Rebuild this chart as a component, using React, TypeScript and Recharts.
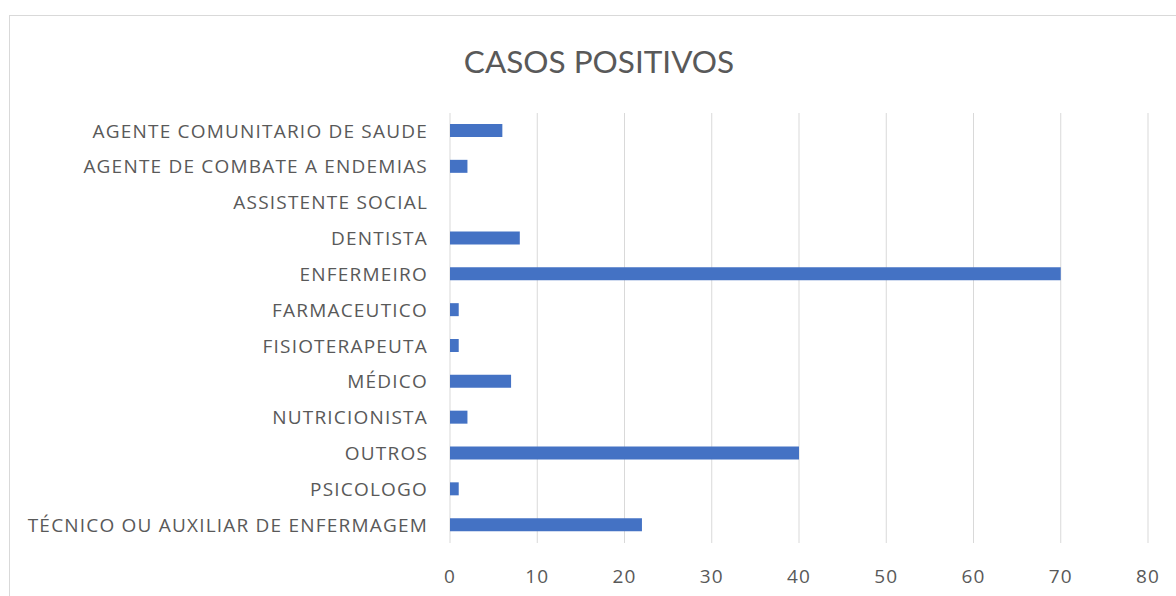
import { BarChart, Bar, XAxis, YAxis, CartesianGrid } from "recharts";

const categories = [
  "AGENTE COMUNITARIO DE SAUDE",
  "AGENTE DE COMBATE A ENDEMIAS",
  "ASSISTENTE SOCIAL",
  "DENTISTA",
  "ENFERMEIRO",
  "FARMACEUTICO",
  "FISIOTERAPEUTA",
  "MÉDICO",
  "NUTRICIONISTA",
  "OUTROS",
  "PSICOLOGO",
  "TÉCNICO OU AUXILIAR DE ENFERMAGEM",
];

const casos = [6, 2, 0, 8, 70, 1, 1, 7, 2, 40, 1, 22];

const xTicks = [0, 10, 20, 30, 40, 50, 60, 70, 80];

const data = categories.map((name, i) => ({ name, casos: casos[i] }));

const font = "'Open Sans', Lato, sans-serif";
const textColor = "#595959";
const tickStyle = { fill: textColor, fontSize: 19, fontFamily: font, letterSpacing: 1.2 };

export default function App() {
  return (
    <div
      style={{
        position: "absolute",
        left: 0,
        top: 0,
        width: 1176,
        height: 596,
        overflow: "hidden",
        background: "#fff",
        fontFamily: font,
      }}
    >
      <div
        style={{
          position: "absolute",
          left: 9,
          top: 15,
          width: 1300,
          height: 800,
          border: "1px solid #d9d9d9",
        }}
      />
      <div
        style={{
          position: "absolute",
          left: 0,
          top: 39,
          width: 1198,
          textAlign: "center",
          fontSize: 31.5,
          fontFamily: "Lato, sans-serif",
          color: textColor,
          lineHeight: "44px",
        }}
      >
        CASOS POSITIVOS
      </div>
      <div style={{ position: "absolute", left: 0, top: 0 }}>
        <BarChart
          width={1176}
          height={596}
          data={data}
          layout="vertical"
          margin={{ top: 113, right: 28, bottom: 0, left: 0 }}
        >
          <CartesianGrid horizontal={false} stroke="#d9d9d9" strokeWidth={1} />
          <XAxis
            type="number"
            domain={[0, 80]}
            ticks={xTicks}
            height={53}
            axisLine={false}
            tickLine={false}
            tickSize={0}
            tickMargin={27}
            tick={tickStyle}
            interval={0}
          />
          <YAxis
            type="category"
            dataKey="name"
            width={450}
            axisLine={false}
            tickLine={false}
            tickSize={0}
            tickMargin={22}
            interval={0}
            tick={tickStyle}
          />
          <Bar dataKey="casos" fill="#4472C4" barSize={13} isAnimationActive={false} />
        </BarChart>
      </div>
    </div>
  );
}
